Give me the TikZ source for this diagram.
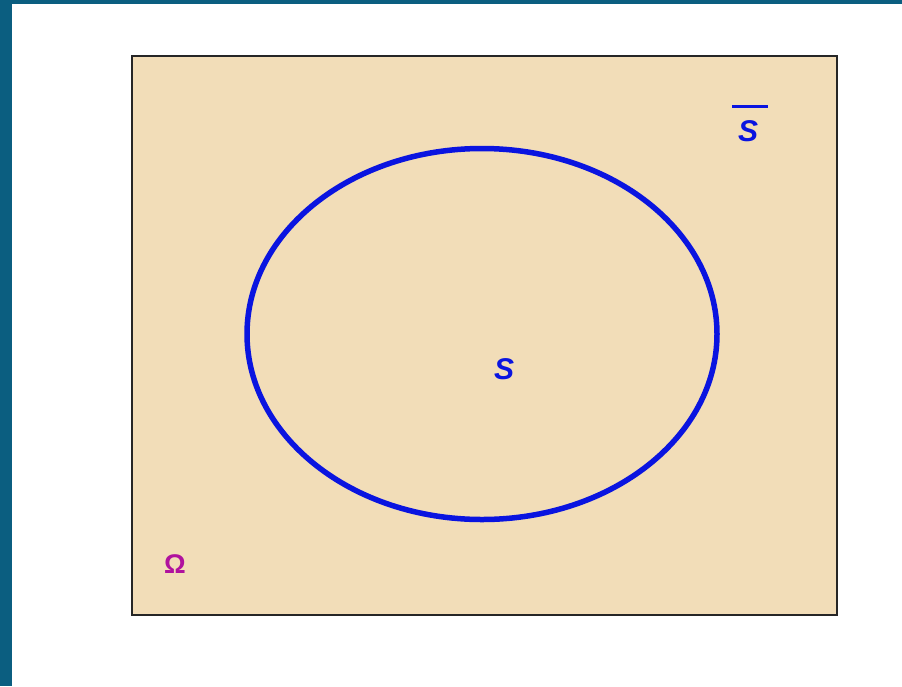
\documentclass[tikz,border=0pt]{standalone}
\usepackage{fontspec}
\setmainfont{Liberation Sans}
\usetikzlibrary{shapes.geometric}
\definecolor{frameteal}{HTML}{0B5E80}
\definecolor{beige}{HTML}{F2DDB8}
\definecolor{setblue}{HTML}{0A14E0}
\definecolor{omag}{HTML}{B0119E}
\begin{document}
\begin{tikzpicture}[x=1pt,y=-1pt,
  lbl/.style={inner sep=0pt, font=\fontsize{30}{30}\selectfont\bfseries\itshape, text=setblue}]
\useasboundingbox (0,0) rectangle (902,686);
\fill[white] (0,0) rectangle (902,686);
\fill[frameteal] (0,0) rectangle (12,686);
\fill[frameteal] (0,0) rectangle (902,4);
\node[draw=black!85, line width=1.5pt, fill=beige, inner sep=0pt, minimum width=705, minimum height=559, anchor=north west] (omega) at (131,55) {};
\node[draw=setblue, line width=5.5pt, ellipse, inner sep=0pt, minimum width=470, minimum height=371] (S) at (482,334) {};
\node[lbl] (s) at (504,369) {S};
\node[lbl] (sbar) at (748,131) {S};
\draw[setblue, line width=3pt] ([xshift=-16pt,yshift=14pt]sbar.north) -- ([xshift=20pt,yshift=14pt]sbar.north);
\node[inner sep=0pt, font=\fontsize{27}{30}\selectfont\bfseries, text=omag] (om) at (175,564) {Ω};
\end{tikzpicture}
\end{document}
